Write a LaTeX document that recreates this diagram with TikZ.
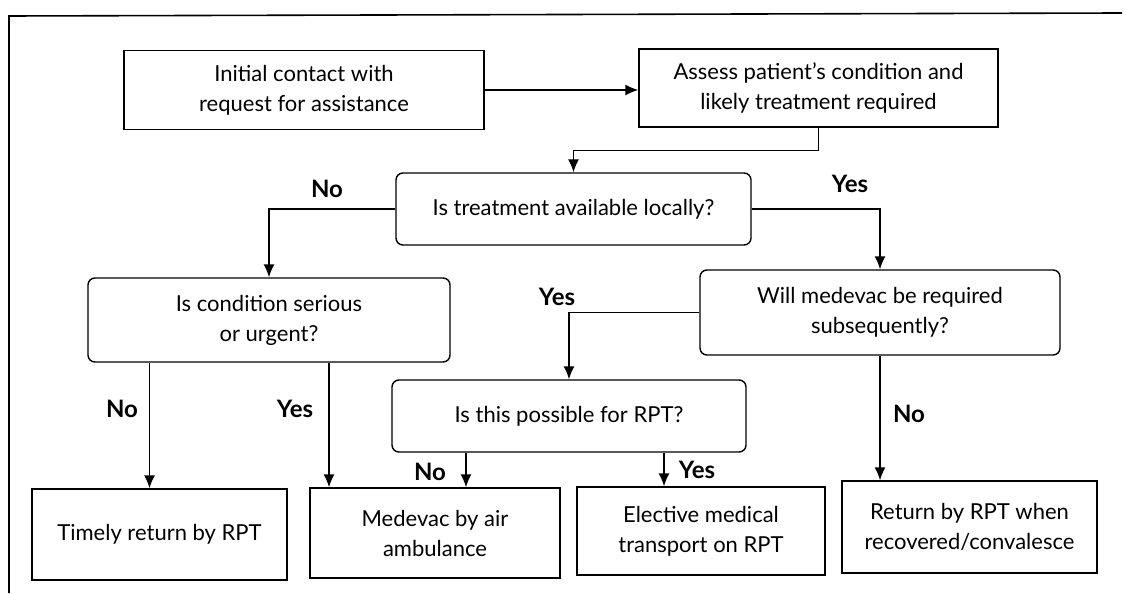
\documentclass[tikz,border=0pt]{standalone}
\usepackage{fontspec}
\setmainfont{Lato}
\usetikzlibrary{arrows.meta}

\begin{document}
\begin{tikzpicture}
    [
    x=0.5pt, y=-0.5pt,
    box/.style={draw,line width=0.7pt,inner sep=0pt,align=center,font=\fontsize{11}{15}\selectfont},
    ask/.style={box,rounded corners=3.5pt},
    ans/.style={font=\bfseries\fontsize{12}{14}\selectfont},
    arr/.style={-{Latex[length=6.5pt,width=5.5pt]},line width=0.7pt}
    ]
    \useasboundingbox (0,0) rectangle (1127,593);
    \draw [line width=0.8pt] (1122,13) -- (9,16) -- (9,593);

    \node (init) at (304,90) [box,minimum width=180pt,minimum height=39.5pt] {Initial contact with\\request for assistance};
    \node (assess) at (818.5,88) [box,minimum width=179.5pt,minimum height=39pt] {Assess patient's condition and\\likely treatment required};
    \node (local) at (573.5,209) [ask,minimum width=177.5pt,minimum height=36pt] {Is treatment available locally?};
    \node (serious) at (269,320) [ask,minimum width=181pt,minimum height=42pt] {Is condition serious\\or urgent?};
    \node (medq) at (880,312.5) [ask,minimum width=180pt,minimum height=42.5pt] {Will medevac be required\\subsequently?};
    \node (rptq) at (569,416) [ask,minimum width=177pt,minimum height=36pt] {Is this possible for RPT?};
    \node (timely) at (159.5,534.5) [box,minimum width=127.5pt,minimum height=45.5pt] {Timely return by RPT};
    \node (air) at (435,533) [box,minimum width=125pt,minimum height=45pt] {Medevac by air\\ambulance};
    \node (elective) at (701,531) [box,minimum width=124pt,minimum height=44pt] {Elective medical\\transport on RPT};
    \node (ret) at (969.5,527) [box,minimum width=127.5pt,minimum height=46pt] {Return by RPT when\\recovered/convalesce};

    \draw [arr] (init.east) -- (init.east -| assess.west);
    \draw [arr] (assess.south) -- ++(0,23) -| (local.north);
    \draw [arr] (local.west) -| (serious.north);
    \draw [arr] (local.east) -| (medq.north);
    \draw [arr] (medq.west) -| (rptq.north);
    \draw [arr] ([xshift=-5pt]timely.north |- serious.south) -- ([xshift=-5pt]timely.north);
    \draw [arr] ([xshift=30pt]serious.south) -- ([xshift=30pt]serious.south |- air.north);
    \draw [arr] ([xshift=15.5pt]air.north |- rptq.south) -- ([xshift=15.5pt]air.north);
    \draw [arr] ([xshift=-18.5pt]elective.north |- rptq.south) -- ([xshift=-18.5pt]elective.north);
    \draw [arr] (medq.south) -- (medq.south |- ret.north);

    \node (n1) at (327,189) [ans] {No};
    \node (y1) at (850,184) [ans] {Yes};
    \node (y2) at (557,297) [ans] {Yes};
    \node (n2) at (122,409) [ans] {No};
    \node (y3) at (295,409) [ans] {Yes};
    \node (n3) at (430,472) [ans] {No};
    \node (y4) at (697,470) [ans] {Yes};
    \node (n4) at (909,414) [ans] {No};
  \end{tikzpicture}
\end{document}
